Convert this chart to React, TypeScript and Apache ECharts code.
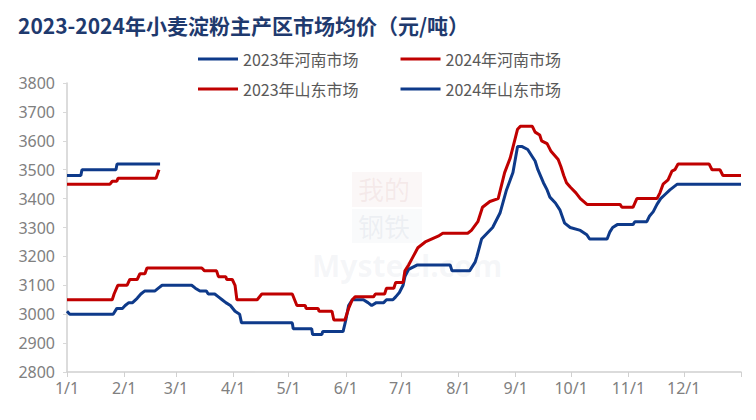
import React, { useEffect, useRef } from "react";
import * as echarts from "echarts";

const TITLE = "2023-2024年小麦淀粉主产区市场均价（元/吨）";

const MONTH_START_DAYS = [0, 31, 59, 90, 120, 151, 181, 212, 243, 273, 304, 334];
const MONTH_LABELS = ["1/1", "2/1", "3/1", "4/1", "5/1", "6/1", "7/1", "8/1", "9/1", "10/1", "11/1", "12/1"];
const YEAR_END_DAY = 365;

const Y_MIN = 2800;
const Y_MAX = 3800;
const Y_STEP = 100;

const SERIES_NAMES = ["2023年河南市场", "2024年河南市场", "2023年山东市场", "2024年山东市场"];

// [day of year, price]
const HENAN_2023: [number, number][] = [
  [0, 3010], [1.5, 3000], [25, 3000], [27, 3020], [30, 3020], [31.5, 3030], [33.5, 3040], [35.5, 3040],
  [38, 3055], [40, 3070], [42, 3080], [47.5, 3080], [49.5, 3090], [51.5, 3100], [67.5, 3100], [69.5, 3090],
  [72, 3080], [75.5, 3080], [76.5, 3070], [80, 3070], [82, 3060], [84, 3050], [86, 3040], [88.5, 3030],
  [91, 3010], [93.5, 3000], [94.5, 2970], [122, 2970], [122.5, 2950], [132.5, 2950], [133, 2930], [138, 2930],
  [138.5, 2940], [149.5, 2940], [151, 2980], [152.5, 3030], [154.5, 3050], [160.5, 3050], [163, 3040],
  [165, 3030], [167.5, 3040], [171.5, 3040], [173, 3050], [176.5, 3050], [178, 3060], [180, 3075],
  [182, 3100], [183, 3130], [185, 3155], [189.5, 3170], [207.5, 3170], [208.5, 3150], [218, 3150],
  [221, 3180], [222, 3200], [224.5, 3260], [227.5, 3280], [230.5, 3300], [234.5, 3350], [238, 3430],
  [241.5, 3490], [244, 3580], [246.5, 3580], [249.5, 3570], [252, 3545], [253.5, 3530], [255, 3500],
  [258, 3455], [260, 3430], [261.5, 3405], [264.5, 3385], [267, 3360], [269.5, 3315], [272.5, 3300],
  [278, 3290], [281.5, 3275], [283, 3260], [292.5, 3260], [294, 3285], [295.5, 3300], [298, 3310],
  [306.5, 3310], [307.5, 3320], [314, 3320], [315.5, 3340], [317.5, 3355], [319.5, 3380], [321.5, 3400],
  [324, 3415], [326.5, 3430], [330.5, 3450], [365, 3450],
];

const SHANDONG_2023: [number, number][] = [
  [0, 3050], [24.5, 3050], [25.5, 3070], [27.5, 3100], [32.5, 3100], [34, 3120], [38, 3120], [39.5, 3140],
  [42.2, 3140], [43.3, 3160], [73, 3160], [74.5, 3150], [81, 3150], [82, 3130], [86, 3130], [86.5, 3120],
  [89.5, 3120], [91, 3100], [92, 3050], [103, 3050], [105.5, 3070], [122, 3070], [124.5, 3030], [129, 3030],
  [129.5, 3020], [136, 3020], [136.5, 3010], [143.5, 3010], [144.5, 2980], [150.5, 2980], [152.5, 3020],
  [154.5, 3050], [156, 3060], [166, 3060], [167, 3070], [172, 3070], [173, 3090], [177, 3090], [178, 3110],
  [182, 3110], [183, 3150], [185, 3170], [187.5, 3200], [190, 3230], [194, 3250], [201, 3270], [203.5, 3280],
  [217, 3280], [219, 3290], [222.5, 3320], [225, 3370], [229, 3390], [233.5, 3400], [237, 3490], [240, 3540],
  [244, 3640], [245.5, 3650], [252, 3650], [253.5, 3630], [256, 3620], [257, 3600], [260, 3590], [262, 3565],
  [264, 3550], [266, 3535], [267.5, 3510], [269, 3480], [270.5, 3455], [272.5, 3440], [275.6, 3420], [278, 3400],
  [281.6, 3380], [299.5, 3380], [300.5, 3370], [306.5, 3370], [308.6, 3400], [319.5, 3400], [321.1, 3420],
  [322.8, 3450], [325.5, 3465], [327.6, 3495], [329.2, 3500], [330.9, 3520], [347.7, 3520], [349.3, 3500],
  [353.6, 3500], [355.2, 3480], [365, 3480],
];

const HENAN_2024: [number, number][] = [
  [0, 3450], [23.3, 3450], [24.5, 3460], [27, 3460], [27.6, 3470], [48.2, 3470], [49.8, 3500],
];

const SHANDONG_2024: [number, number][] = [
  [0, 3480], [7.5, 3480], [8.1, 3500], [26.5, 3500], [27.1, 3520], [50.4, 3520],
];

const BLUE = "#0E3A8A";
const RED = "#C00000";

export default function App() {
  const ref = useRef<HTMLDivElement>(null);

  useEffect(() => {
    if (!ref.current) return;
    const chart = echarts.init(ref.current, undefined, { renderer: "svg" });
    const axisText = { color: "#808080", fontSize: 16, fontFamily: "Noto Sans" };
    const legendBase = {
      left: 193,
      itemWidth: 40,
      itemHeight: 3,
      icon: "rect",
      itemGap: 42,
      textStyle: { fontSize: 16, color: "#595959", fontFamily: "Noto Sans CJK SC", width: 125 },
    };
    const lineSeries = (name: string, color: string, data: [number, number][]) => ({
      name,
      type: "line",
      data,
      color,
      symbol: "none",
      showSymbol: false,
      lineStyle: { width: 3, color },
      z: 3,
    });
    chart.setOption({
      animation: false,
      backgroundColor: "#ffffff",
      title: {
        text: TITLE,
        left: 13,
        top: 9,
        textStyle: { fontSize: 21, fontWeight: "bold", color: "#1F3A6E", fontFamily: "Noto Sans CJK SC" },
      },
      legend: [
        { ...legendBase, top: 46, data: [SERIES_NAMES[0], SERIES_NAMES[1]] },
        { ...legendBase, top: 76, data: [SERIES_NAMES[2], SERIES_NAMES[3]] },
      ],
      grid: { left: 67, right: 15, top: 83, bottom: 48 },
      xAxis: {
        type: "value",
        min: 0,
        max: YEAR_END_DAY,
        splitLine: { show: false },
        axisLine: { lineStyle: { color: "#D0D0D0", width: 1.5 } },
        axisTick: {
          show: true,
          length: 5,
          customValues: [...MONTH_START_DAYS, YEAR_END_DAY],
          lineStyle: { color: "#D0D0D0" },
        },
        axisLabel: {
          ...axisText,
          margin: 8,
          customValues: MONTH_START_DAYS,
          formatter: (v: number) => {
            const i = MONTH_START_DAYS.indexOf(Math.round(v));
            return i >= 0 ? MONTH_LABELS[i] : "";
          },
        },
      },
      yAxis: {
        type: "value",
        min: Y_MIN,
        max: Y_MAX,
        interval: Y_STEP,
        splitLine: { show: false },
        axisLine: { show: true, lineStyle: { color: "#D0D0D0", width: 1.5 } },
        axisTick: { show: true, length: 4, lineStyle: { color: "#D8D8D8" } },
        axisLabel: { ...axisText, margin: 12, formatter: (v: number) => String(v) },
      },
      graphic: [
        {
          type: "group",
          silent: true,
          z: 0,
          children: [
            { type: "rect", shape: { x: 352, y: 172, width: 70, height: 35 }, style: { fill: "rgba(200,140,140,0.07)" } },
            { type: "text", x: 358, y: 175, style: { text: "我的", fontSize: 26, fontFamily: "Noto Sans CJK SC", fill: "rgba(200,140,140,0.12)" } },
            { type: "rect", shape: { x: 352, y: 209, width: 70, height: 34 }, style: { fill: "rgba(170,180,200,0.07)" } },
            { type: "text", x: 358, y: 212, style: { text: "钢铁", fontSize: 26, fontFamily: "Noto Sans CJK SC", fill: "rgba(170,180,200,0.16)" } },
            { type: "text", x: 312, y: 250, style: { text: "Mysteel.com", fontSize: 30, fontWeight: "bold", fontFamily: "Noto Sans", fill: "rgba(180,190,205,0.13)" } },
          ],
        },
      ],
      series: [
        lineSeries(SERIES_NAMES[0], BLUE, HENAN_2023),
        lineSeries(SERIES_NAMES[1], RED, HENAN_2024),
        lineSeries(SERIES_NAMES[2], RED, SHANDONG_2023),
        lineSeries(SERIES_NAMES[3], BLUE, SHANDONG_2024),
      ],
    });
    return () => chart.dispose();
  }, []);

  return <div ref={ref} style={{ position: "fixed", left: 0, top: 0, width: 756, height: 420 }} />;
}
